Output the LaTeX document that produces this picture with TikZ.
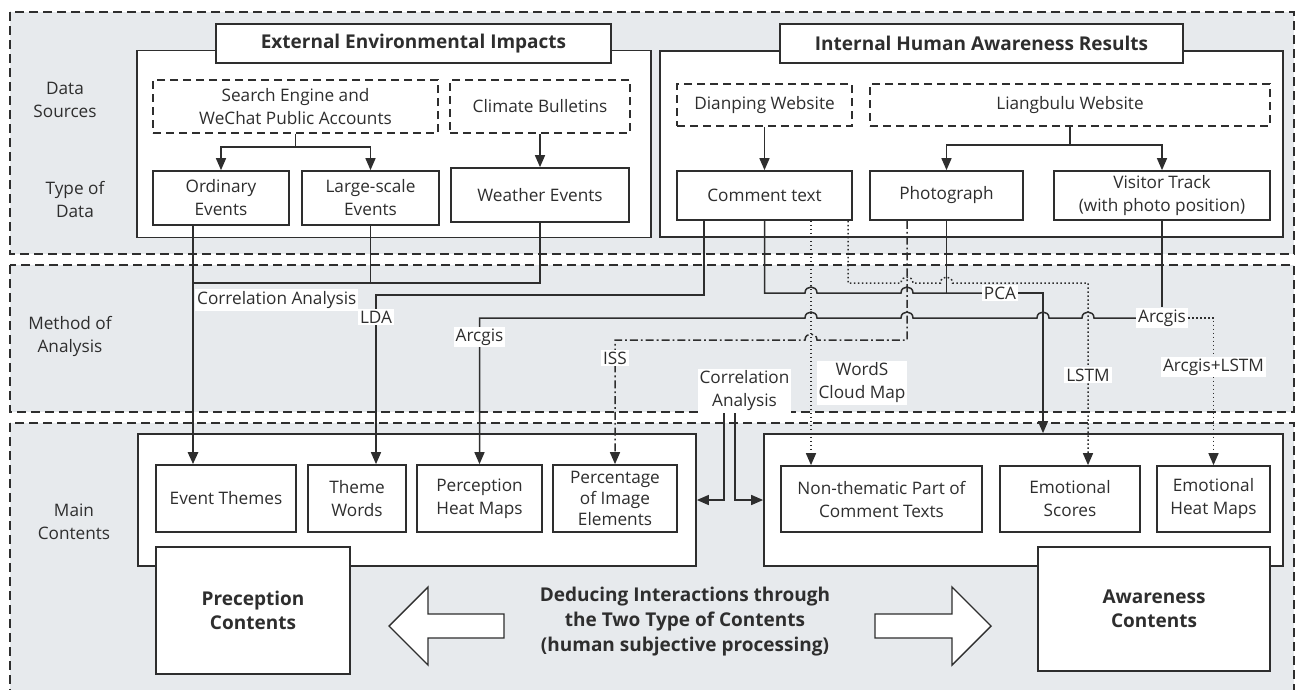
\documentclass[tikz,border=0pt]{standalone}
\usepackage{fontspec}
\setmainfont{Open Sans}
\usetikzlibrary{arrows.meta}
\definecolor{ink}{HTML}{2E2E2E}
\definecolor{bandgray}{HTML}{E7EAED}
\pgfdeclarelayer{bands}
\pgfdeclarelayer{frames}
\pgfdeclarelayer{wires}
\pgfsetlayers{bands,frames,wires,main}
% line hops: a small upward bump over a crossing at x=#1 on the line y=#2
\newcommand\hopR[2]{-- ({#1-6},#2) .. controls ({#1-6},{#2-8}) and ({#1+6},{#2-8}) .. ({#1+6},#2)}
\newcommand\hopL[2]{-- ({#1+6},#2) .. controls ({#1+6},{#2-8}) and ({#1-6},{#2-8}) .. ({#1-6},#2)}
\newcommand\diagfont{\fontsize{17.2}{23}\selectfont}
\newcommand\boldfont[1]{\fontsize{19}{#1}\selectfont\bfseries}
\begin{document}
\begin{tikzpicture}[x=1pt,y=-1pt,
  font=\diagfont, text=ink,
  sz/.style 2 args={minimum width=#1,minimum height=#2},
  band/.style={draw=ink,fill=bandgray,line width=1.6pt,dash pattern=on 9pt off 5pt},
  panel/.style={draw=ink,fill=white,line width=1.7pt,inner sep=0pt},
  box/.style={draw=ink,fill=white,line width=1.7pt,inner sep=0pt,align=center},
  srcbox/.style={box,dash pattern=on 8pt off 5pt},
  title/.style={box,font=\boldfont{24}},
  wire/.style={draw=ink,line width=1.5pt},
  arr/.style={wire,-{Triangle[length=12pt,width=10pt]}},
  dotarr/.style={arr,dash pattern=on 1.6pt off 2.4pt},
  ddarr/.style={arr,dash pattern=on 8pt off 3pt on 1.8pt off 3pt},
  tag/.style={fill=white,inner sep=2pt,align=center},
  rowname/.style={align=center},
  bigarrow/.style={draw=ink,fill=white,line width=1.4pt,line join=miter},
]
\useasboundingbox (0,0) rectangle (1298,689);

% ---- horizontal bands ----
\begin{pgfonlayer}{bands}
  \draw[band] (10,12) rectangle (1294,254);
  \draw[band] (10,265) rectangle (1294,412);
  \draw[band] (10,423) rectangle (1294,700);
\end{pgfonlayer}

% ---- row names ----
\node[rowname] (rDS) at (65,100) {Data\\Sources};
\node[rowname] (rTD) at (75,199) {Type of\\Data};
\node[rowname] (rMA) at (70,336) {Method of\\Analysis};
\node[rowname] (rMC) at (74,522) {Main\\Contents};

% ---- container panels ----
\begin{pgfonlayer}{frames}
  \node[panel, sz={514}{187}] (ext) at (394,144) {};
  \node[panel, sz={623}{186}] (int) at (971.5,144) {};
  \node[panel, sz={558}{132}] (pcont) at (417,500) {};
  \node[panel, sz={519}{132}] (acont) at (1023.5,500) {};
\end{pgfonlayer}

% ---- data sources and data types ----
\node[title, sz={395}{39}] (extT) at (413.5,43.5) {External Environmental Impacts};
\node[title, sz={403}{39}] (intT) at (981.5,43.5) {Internal Human Awareness Results};
\node[srcbox, sz={285}{53}] (search) at (295.5,106.5) {Search Engine and\\WeChat Public Accounts};
\node[srcbox, sz={180}{53}] (climate) at (540,106.5) {Climate Bulletins};
\node[srcbox, sz={175}{42}] (dianping) at (764.5,105) {Dianping Website};
\node[srcbox, sz={400}{42}] (liang) at (1070,105) {Liangbulu Website};
\node[box, sz={136}{54}] (ordinary) at (221,198) {Ordinary\\Events};
\node[box, sz={137}{54}] (large) at (370.5,198) {Large-scale\\Events};
\node[box, sz={178}{54}] (weather) at (540,195) {Weather Events};
\node[box, sz={175}{49}] (comment) at (764.5,195.5) {Comment text};
\node[box, sz={153}{49}] (photo) at (946.5,195.5) {Photograph};
\node[box, sz={216}{49}] (visitor) at (1162,195.5) {Visitor Track\\(with photo position)};

% ---- main contents ----
\node[box, sz={140}{67}] (eventT) at (226,498.5) {Event Themes};
\node[box, sz={98}{67}] (themeW) at (357,498.5) {Theme\\Words};
\node[box, sz={125}{67}] (heatP) at (479.5,498.5) {Perception\\Heat Maps};
\node[box, sz={124}{67}, font=\fontsize{17.2}{21}\selectfont] (percent) at (615,498.5) {Percentage\\of Image\\Elements};
\node[box, sz={201}{66}] (nonthem) at (881.5,499) {Non-thematic Part of\\Comment Texts};
\node[box, sz={140}{66}] (emoS) at (1070,499) {Emotional\\Scores};
\node[box, sz={113}{66}] (heatE) at (1213.5,499) {Emotional\\Heat Maps};
\node[box, sz={194}{127}, font=\boldfont{24}] (precC) at (253,610.5) {Preception\\Contents};
\node[box, sz={232}{124}, font=\boldfont{24}] (awareC) at (1154,609) {Awareness\\Contents};
\node[align=center, font=\boldfont{25}] (deduce) at (685,622)
  {Deducing Interactions through\\the Two Type of Contents\\(human subjective processing)};

\draw[bigarrow] (389,626) -- (428,587) -- (428,614) -- (504,614) -- (504,638) -- (428,638) -- (428,665) -- cycle;
\draw[bigarrow] (991,626) -- (952,587) -- (952,614) -- (875,614) -- (875,638) -- (952,638) -- (952,665) -- cycle;

% ---- method labels ----
\node[tag, anchor=west] (corrL) at (195,300) {Correlation Analysis};
\node[tag] (lda) at (376,317) {LDA};
\node[tag] (arcL) at (479.5,337) {Arcgis};
\node[tag] (iss) at (615,358) {ISS};
\node[tag] (words) at (862,383) {WordS\\Cloud Map};
\node[tag] (pca) at (1000,293) {PCA};
\node[tag] (lstm) at (1088,375) {LSTM};
\node[tag] (arcR) at (1162,318) {Arcgis};
\node[tag] (arcLstm) at (1213.5,367) {Arcgis+LSTM};
\node[tag] (corr) at (744.5,391) {Correlation\\Analysis};

% ---- connectors ----
\begin{pgfonlayer}{wires}
  % sources to data types
  \draw[arr] (search.south) -- ++(0,13) -| (ordinary.north);
  \draw[arr] (search.south) -- ++(0,13) -| (large.north);
  \draw[arr] (climate.south) -- (weather.north);
  \draw[arr] (dianping.south) -- (comment.north);
  \draw[arr] (liang.south) -- ++(0,18) -| (photo.north);
  \draw[arr] (liang.south) -- ++(0,18) -| (visitor.north);

  % events merged by correlation analysis
  \coordinate (trunk) at (193,283);
  \draw[wire] (ordinary.south -| trunk) -- (trunk);
  \draw[wire] (large.south) -- (large.south |- trunk);
  \draw[wire] (weather.south) -- (weather.south |- trunk) -- (trunk);
  \draw[arr, line width=2.6pt] (trunk) -- (eventT.north -| trunk);

  % LDA
  \coordinate (ldaBend) at (704,295);
  \draw[arr] (comment.south -| ldaBend) -- (ldaBend) -| (themeW.north -| lda);

  % Arcgis from visitor track
  \draw[wire] (visitor.south) -- (arcR.north);
  \draw[arr] (arcR.west) \hopL{1088}{318} \hopL{1043}{318} \hopL{907}{318} \hopL{811}{318} -| (heatP.north);
  \draw[dotarr] (arcR.east) -| (heatE.north);

  % PCA
  \coordinate (pcaBend) at (1043,293);
  \draw[wire] (comment.south) -- (comment.south |- pcaBend) \hopR{811}{293} \hopR{907}{293} -- (pca.west);
  \draw[wire] (photo.south) -- (photo.south |- pcaBend);
  \draw[arr] (pca.east) -- (pcaBend) -- (acont.north -| pcaBend);

  % word cloud
  \coordinate (wcX) at (811,220);
  \draw[dotarr] (comment.south -| wcX) -- (nonthem.north -| wcX);

  % LSTM
  \coordinate (lstmBend) at (848,283);
  \draw[dotarr] (comment.south -| lstmBend) -- (lstmBend) \hopR{907}{283} \hopR{946.5}{283} -| (emoS.north -| lstm);

  % ISS
  \coordinate (issBend) at (907,340);
  \draw[ddarr] (photo.south -| issBend) -- (issBend) \hopL{811}{340} -| (percent.north);

  % correlation between the two kinds of contents
  \draw[arr] ([xshift=-20.5pt]corr.south) |- (pcont.east);
  \draw[arr] ([xshift=-9.5pt]corr.south) |- (acont.west);
\end{pgfonlayer}
\end{tikzpicture}
\end{document}
